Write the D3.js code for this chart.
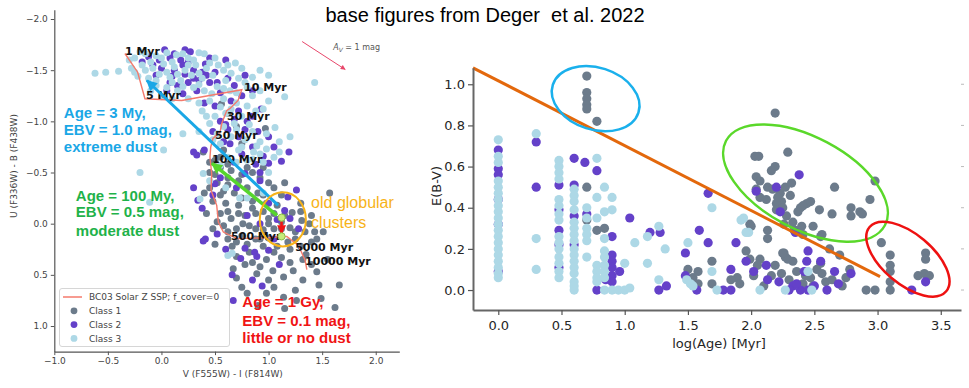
<!DOCTYPE html>
<html>
<head>
<meta charset="utf-8">
<script src="https://cdn.jsdelivr.net/npm/d3@7"></script>
<style>
body { margin: 0; background: #fff; }
svg { display: block; }
</style>
</head>
<body>
<svg id="fig" width="969" height="388"></svg>
<script>
// ---- left panel: colour-colour diagram (V-I, U-B) ----
const cmdClass1 = [
  [0.56,-1.17],[0.62,-1.08],[0.70,-0.95],[0.39,-0.70],[0.97,-0.93],[0.50,-0.62],[0.58,-0.72],[0.75,-0.78],
  [0.45,-0.60],[0.55,-0.55],[0.65,-0.52],[0.80,-0.55],[0.50,-0.48],[0.62,-0.45],[0.72,-0.42],[0.85,-0.50],
  [0.45,-0.35],[0.58,-0.32],[0.68,-0.30],[0.80,-0.35],[0.90,-0.30],[1.05,-0.35],[1.15,-0.40],[1.57,-0.30],
  [0.48,-0.22],[0.60,-0.20],[0.72,-0.18],[0.85,-0.22],[0.98,-0.20],[1.08,-0.18],[1.22,-0.11],[0.55,-0.10],
  [0.65,-0.05],[0.78,-0.08],[0.88,-0.10],[1.00,-0.05],[1.12,-0.02],[1.31,-0.03],[1.40,-0.08],[0.58,0.02],
  [0.70,0.05],[0.82,0.02],[0.95,0.06],[1.05,0.05],[1.20,0.04],[1.34,0.08],[1.43,0.08],[1.51,0.08],
  [0.62,0.15],[0.75,0.12],[0.88,0.15],[1.00,0.14],[1.12,0.12],[1.25,0.15],[0.66,0.22],[0.80,0.20],
  [0.95,0.22],[1.08,0.22],[1.20,0.25],[1.30,0.22],[0.70,0.32],[0.85,0.38],[0.98,0.35],[1.12,0.33],
  [1.32,0.35],[0.67,0.44],[0.89,0.49],[1.04,0.46],[1.14,0.52],[1.23,0.46],[0.70,0.53],[1.45,0.47],
  [1.47,0.60],[1.66,0.60],[1.49,0.73],[1.62,0.82],[1.15,0.83],[1.26,0.75],[1.14,0.72],[0.80,0.68],
  [0.98,0.68],[1.00,0.55],[0.52,-0.02],[1.35,0.30],[1.40,0.18],
  [0.52,-0.40],[0.62,-0.38],[0.75,-0.48],[0.92,-0.45],[1.00,-0.40],[0.55,-0.28],[0.75,-0.25],[0.95,-0.28],
  [1.12,-0.28],[1.30,-0.20],[0.62,-0.12],[0.72,-0.10],[0.95,-0.12],[1.05,-0.10],[1.15,-0.08],[1.30,-0.12],
  [0.62,0.08],[0.76,0.00],[0.88,0.05],[1.00,0.00],[1.12,0.05],[1.25,0.08],[0.70,0.18],[0.82,0.28],
  [0.92,0.15],[1.05,0.28],[1.18,0.18],[1.45,0.15],[0.78,0.40],[0.92,0.42],[1.20,0.38],[1.40,0.40],
  [1.05,0.62],[1.32,0.55],[0.90,0.80],[0.55,-0.65],[0.45,-0.50],[0.40,-0.30],[0.42,-0.10],[0.50,0.20],
  [0.75,0.62],[1.55,0.35],[1.25,0.65],[0.62,-0.58],[0.95,-0.55],[0.85,-0.15],[1.38,0.00],[0.48,0.05]
];
const cmdClass2 = [
  [-0.12,-1.63],[-0.02,-1.60],[0.08,-1.62],[0.18,-1.60],[0.27,-1.68],[0.03,-1.70],[0.12,-1.50],[0.20,-1.55],
  [0.30,-1.50],[0.08,-1.38],[0.22,-1.46],[0.35,-1.40],[0.45,-1.38],[0.15,-1.35],[0.25,-1.38],[0.50,-1.48],
  [0.41,-1.56],[0.33,-1.30],[0.55,-1.28],[0.62,-1.42],[0.78,-1.45],[0.93,-1.12],[0.65,-1.20],[0.75,-1.25],
  [0.50,-1.15],[0.40,-1.18],[-0.05,-1.45],[-0.18,-1.58],[0.45,-1.62],[0.60,-1.60],
  [0.55,-1.00],[0.68,-1.02],[0.80,-1.00],[0.48,-0.90],[0.62,-0.92],[0.90,-0.90],[0.72,-0.85],[0.58,-0.80],
  [0.85,-0.75],[1.00,-0.85],[1.19,-0.70],[1.12,-0.61],[0.64,-0.78],[0.40,-0.72],[0.30,-0.70],[0.75,-0.68],
  [0.95,-0.66],[0.68,-0.60],[0.88,-0.58],[1.00,-0.59],
  [0.33,-0.67],[0.78,-0.49],[0.92,-0.42],[1.26,-0.33],[0.50,-0.39],[0.34,-0.23],[0.38,-0.15],[1.15,-0.13],
  [1.18,-0.26],[0.80,-0.08],[0.92,0.00],[1.08,-0.04],[0.41,0.15],[0.52,0.10],[0.39,0.17],[0.78,0.24],
  [1.00,0.26],[0.74,0.34],[0.87,0.28],[0.89,0.32],[0.66,0.50],[0.94,0.61],[0.67,0.75],[1.20,-0.05],
  [0.30,-0.35],[1.05,0.15],
  [-0.08,-1.55],[0.00,-1.52],[0.10,-1.44],[0.25,-1.58],[0.38,-1.48],[0.12,-1.66],[0.22,-1.70],[0.42,-1.45],
  [0.52,-1.38],[0.30,-1.42],[0.05,-1.30],[0.20,-1.27],[0.68,-1.35],[0.85,-1.30],[0.72,-1.10],[0.85,-1.05],
  [0.60,-0.97],[0.78,-0.92],[1.05,-0.75],[0.92,-0.50],[0.55,-0.45],[0.70,-0.35],[0.60,0.25],[1.10,0.40],
  [0.85,0.55],[1.28,0.05],[1.00,-0.20],[0.48,-0.28]
];
const cmdClass3 = [
  [-0.25,-1.62],[-0.15,-1.66],[-0.05,-1.64],[0.05,-1.67],[0.14,-1.65],[0.25,-1.62],
  [-0.28,-1.52],[-0.18,-1.55],[-0.08,-1.52],[0.02,-1.56],[0.12,-1.53],[0.22,-1.50],[0.32,-1.55],[0.42,-1.52],
  [0.53,-1.55],[0.69,-1.57],
  [-0.22,-1.44],[-0.12,-1.42],[-0.02,-1.46],[0.08,-1.43],[0.18,-1.40],[0.28,-1.45],[0.38,-1.42],[0.48,-1.45],
  [0.60,-1.40],[0.72,-1.42],
  [-0.05,-1.35],[0.05,-1.33],[0.15,-1.30],[0.30,-1.33],[0.40,-1.30],[0.52,-1.34],[0.64,-1.30],[0.80,-1.33],
  [0.00,-1.24],[0.25,-1.22],[0.45,-1.20],[0.58,-1.22],[0.70,-1.18],[0.85,-1.25],[1.15,-1.24],
  [-0.62,-1.47],[-0.52,-1.48],[-0.40,-1.49],[1.43,-1.38],[0.92,-1.50],[0.40,-1.66],
  [0.38,-1.10],[0.50,-1.05],[0.60,-1.08],[0.75,-1.05],[0.88,-1.10],[0.45,-0.98],[0.58,-0.95],[0.70,-0.92],
  [0.82,-0.97],[1.06,-0.94],[0.35,-0.90],[0.20,-0.88],[0.65,-0.85],[0.78,-0.82],[0.92,-0.80],[1.20,-0.85],
  [0.55,-0.78],[0.72,-0.72],[0.86,-0.70],[0.98,-0.73],[0.02,-0.72],[0.62,-0.65],[0.80,-0.62],[0.95,-0.60],
  [1.05,-0.65],[-0.20,-0.50],[0.39,-0.49],[0.55,-0.57],[1.00,-0.50],[0.89,-0.76],[0.36,-0.24],[0.45,-0.42],
  [0.60,-0.35],
  [-0.11,-0.21],[0.73,-0.25],[0.80,-0.25],[0.66,0.29],[0.62,0.31],[0.95,-0.30],
  [-0.30,-1.60],[-0.20,-1.68],[-0.10,-1.58],[0.00,-1.62],[0.10,-1.58],[0.20,-1.66],[0.30,-1.60],[0.35,-1.67],
  [-0.25,-1.48],[-0.15,-1.50],[-0.05,-1.40],[0.05,-1.48],[0.15,-1.46],[0.25,-1.55],[0.35,-1.47],[0.45,-1.57],
  [0.58,-1.50],[0.65,-1.47],[0.78,-1.38],[0.85,-1.43],
  [-0.10,-1.30],[0.10,-1.38],[0.20,-1.34],[0.35,-1.36],[0.47,-1.27],[0.58,-1.32],[0.70,-1.28],[0.92,-1.30],
  [1.00,-1.20],[0.10,-1.22],[0.35,-1.18],[0.55,-1.14],[0.65,-1.12],[0.80,-1.15],[0.95,-1.12],
  [0.42,-1.05],[0.68,-0.98],[0.85,-0.90],[0.98,-0.88],[1.10,-0.80],[0.52,-0.88],[0.75,-0.75],[0.92,-0.68],
  [1.10,-0.70],[0.70,-0.60],[0.85,-0.63],[0.48,-0.82],
  [0.50,-1.62],[0.62,-1.55],[0.75,-1.52],[1.00,-1.45]
];
// BC03 solar-metallicity SSP track
const ssptrack = [
  [-0.341,-1.663],[-0.222,-1.480],[-0.154,-1.221],[0.189,-1.204],[0.750,-1.309],[0.715,-1.204],
  [0.640,-1.126],[0.609,-1.104],[0.563,-0.979],[0.547,-0.895],[0.481,-0.833],[0.460,-0.748],
  [0.453,-0.650],[0.469,-0.488],[0.463,-0.325],[0.516,-0.179],[0.531,-0.016],[0.578,0.082],
  [0.703,0.146],[0.983,0.137],[1.170,0.124],[1.279,0.212],[1.341,0.358],[1.357,0.449]
];
const trackAges = ["1 Myr","5 Myr","10 Myr","30 Myr","50 Myr","100 Myr","500 Myr","5000 Myr","10000 Myr"];
const trackAgePos = [
  [-0.341,-1.644],[-0.145,-1.214],[0.771,-1.292],[0.612,-1.009],[0.500,-0.823],
  [0.472,-0.589],[0.650,0.163],[1.248,0.271],[1.341,0.407]
];
const cmdXTicks = [-1.0,-0.5,0.0,0.5,1.0,1.5,2.0];
const cmdYTicks = [-2.0,-1.5,-1.0,-0.5,0.0,0.5,1.0];
const legendLabels = ["BC03 Solar Z SSP; f_cover=0","Class 1","Class 2","Class 3"];

// ---- right panel: E(B-V) vs log(Age) ----
const ageClass1 = [
  [0.70,1.04],[0.70,0.96],[0.70,0.93],[0.70,0.90],[0.70,0.88],[0.78,0.82],
  [0.70,0.50],[0.70,0.34],[0.78,0.29],[0.84,0.30],[1.50,0.10],[1.54,0.06],[1.58,0.03],[2.19,0.86],
  [2.03,0.65],[2.06,0.65],[2.29,0.67],[2.16,0.58],[2.19,0.60],[2.04,0.55],[2.07,0.53],[2.04,0.49],
  [2.13,0.50],[2.17,0.49],[2.23,0.47],[2.27,0.50],[2.32,0.52],[2.31,0.46],[2.24,0.43],[2.07,0.45],
  [2.12,0.44],[2.20,0.42],[2.66,0.50],[2.98,0.53],[2.94,0.44],[2.79,0.40],[2.86,0.38],[2.79,0.36],
  [2.54,0.39],[2.44,0.42],[2.39,0.40],[2.37,0.38],[2.25,0.40],[2.20,0.39],[2.41,0.41],[2.47,0.43],
  [2.33,0.33],[2.26,0.32],[2.35,0.29],[2.41,0.27],[2.49,0.31],[2.55,0.26],[2.28,0.36],[2.21,0.45],
  [2.00,0.31],[2.13,0.29],[2.13,0.25],[1.96,0.19],[1.99,0.15],[2.07,0.15],[1.69,0.14],[1.69,0.03],
  [1.89,0.06],[1.91,0.03],[2.02,0.07],[2.16,0.07],[2.19,0.12],[2.24,0.08],[2.26,0.18],[2.27,0.16],
  [2.33,0.14],[2.36,0.09],[2.41,0.03],[2.43,0.07],[2.47,0.06],[2.49,0.02],[2.55,0.13],[2.56,0.08],
  [2.59,0.04],[2.64,0.05],[2.70,0.17],[2.78,0.10],[2.75,0.06],[2.91,0.00],[2.98,0.00],[3.03,0.23],
  [3.10,0.17],[3.10,0.12],[3.10,0.09],[3.10,0.04],[3.10,0.00],[3.38,0.18],[3.38,0.15],[3.32,0.07],
  [3.37,0.08],[3.41,0.07],[2.56,0.27],[2.40,0.31],[2.34,0.29],[2.64,0.37],[2.88,0.37],[1.58,0.09],
  [1.99,0.32],[2.29,0.15],[2.25,0.18],[2.05,0.12],[1.84,0.05],[2.10,0.02],[2.30,0.05],[2.52,0.10],
  [2.62,0.20],[2.72,0.02]
];
const ageClass2 = [
  [0.00,0.68],[0.00,0.59],[0.00,0.56],[0.00,0.44],[0.00,0.32],[0.00,0.09],[0.30,0.72],[0.30,0.50],
  [0.48,0.51],[0.48,0.39],[0.48,0.29],[0.48,0.22],[0.48,0.11],[0.60,0.64],[0.60,0.51],[0.60,0.36],
  [0.60,0.22],[0.685,0.62],[0.78,0.58],[0.70,0.37],[0.78,0.00],[0.90,0.26],[0.90,0.17],[0.90,0.14],
  [0.90,0.11],[0.90,0.07],[0.90,0.04],[0.85,0.05],[0.96,0.09],[1.04,0.35],[1.20,0.28],[1.28,0.28],
  [1.27,0.00],[1.33,0.02],[1.48,0.18],[1.48,0.07],[1.59,0.29],[1.66,0.23],[1.66,0.47],[1.88,0.23],
  [1.84,0.10],[1.96,0.14],[2.02,0.09],[2.12,0.12],[2.13,0.05],[2.22,0.04],[2.44,0.14],[2.55,0.14],
  [2.66,0.09],[2.79,0.08],[2.69,0.03],[2.60,0.00],[1.57,0.00],[1.78,0.00],[1.84,0.00],[2.39,0.00],
  [2.45,0.00],[2.50,0.02],[2.33,0.02],[3.27,0.00],[3.38,0.04],[2.38,0.56],[2.04,0.48],[2.20,0.50],
  [2.23,0.38],[2.35,0.28],[2.45,0.19],[2.36,0.03],[2.30,0.00],[2.42,0.09]
];
const ageClass3 = [
  [0,0.73],[0,0.65],[0,0.62],[0,0.53],[0,0.50],[0,0.47],[0,0.44],[0,0.41],[0,0.38],[0,0.35],
  [0,0.32],[0,0.29],[0,0.26],[0,0.23],[0,0.20],[0,0.17],[0,0.14],[0,0.11],[0,0.08],[0,0.06],
  [0.30,0.76],[0.30,0.25],[0.30,0.10],
  [0.48,0.63],[0.48,0.60],[0.48,0.57],[0.48,0.54],[0.48,0.44],[0.48,0.41],[0.48,0.37],[0.48,0.34],
  [0.48,0.26],[0.48,0.23],[0.48,0.20],[0.48,0.16],[0.48,0.13],[0.48,0.09],[0.48,0.06],
  [0.60,0.49],[0.60,0.46],[0.60,0.43],[0.60,0.39],[0.60,0.33],[0.60,0.30],[0.60,0.27],[0.60,0.24],
  [0.60,0.20],[0.60,0.17],[0.60,0.14],[0.60,0.11],[0.60,0.08],[0.60,0.04],[0.60,0.02],[0.60,0.00],
  [0.70,0.40],[0.70,0.35],[0.70,0.30],[0.70,0.27],[0.70,0.24],[0.70,0.16],
  [0.78,0.64],[0.84,0.50],[0.78,0.45],[0.78,0.35],[0.78,0.12],[0.78,0.09],[0.78,0.06],[0.78,0.04],
  [0.84,0.38],[0.84,0.25],[0.84,0.19],[0.84,0.16],[0.84,0.12],[0.84,0.09],[0.84,0.06],[0.84,0.00],
  [0.90,0.45],[0.90,0.39],[0.90,0.00],[0.95,0.00],[1.00,0.00],[1.04,0.01],[1.00,0.13],[1.08,0.23],
  [1.18,0.26],[1.18,0.13],[1.27,0.31],[1.27,0.05],[1.32,0.20],[1.49,0.05],[1.50,0.23],[1.54,0.02],
  [1.52,0.03],[1.69,0.40],[1.94,0.35],[1.98,0.28],[1.69,0.09],[1.73,0.00],[2.07,0.00],[2.27,0.00],
  [2.45,0.09],[2.48,0.00],[1.92,0.34],[1.96,0.28]
];
const ageXTicks = [0.0,0.5,1.0,1.5,2.0,2.5,3.0,3.5];
const ageYTicks = [0.0,0.2,0.4,0.6,0.8,1.0];
const dustLine = [[-0.2,1.08],[3.02,0.065]];

const colors = { c1: "#6c7b8b", c2: "#6441c9", c3: "#add8e6", track: "#f47a6c" };

const svg = d3.select("#fig");
const defs = svg.append("defs");
function marker(id, color, w, h) {
  defs.append("marker")
    .attr("id", id)
    .attr("viewBox", "0 0 10 10")
    .attr("refX", 9).attr("refY", 5)
    .attr("markerWidth", w).attr("markerHeight", h)
    .attr("markerUnits", "userSpaceOnUse")
    .attr("orient", "auto")
    .append("path").attr("d", "M0,0L10,5L0,10z").attr("fill", color);
}
marker("ahBlue", "#1aa7e6", 13, 11);
marker("ahGreen", "#56d52c", 13, 11);
marker("ahRed", "#f01414", 9, 10);
marker("ahAv", "#e8476b", 6, 5);

// title
svg.append("text")
  .attr("x", 485).attr("y", 22)
  .attr("text-anchor", "middle")
  .style("white-space", "pre")
  .style("font-family", "'Liberation Sans', Arial, sans-serif")
  .style("font-size", "20px")
  .attr("fill", "#000")
  .text("base figures from Deger  et al. 2022");

// ================= left panel =================
const xL = d3.scaleLinear().domain([-1, 2.22]).range([54.3, 399.3]);
const yL = d3.scaleLinear().domain([-2.09, 1.25]).range([9.8, 351.6]);
const gL = svg.append("g");

const axL = gL.append("g").attr("transform", `translate(0,${yL.range()[1]})`)
  .call(d3.axisBottom(xL).tickValues(cmdXTicks).tickFormat(d3.format(".1f")).tickSize(3.5).tickSizeOuter(0));
const ayL = gL.append("g").attr("transform", `translate(${xL.range()[0]},0)`)
  .call(d3.axisLeft(yL).tickValues(cmdYTicks).tickFormat(d3.format(".1f")).tickSize(3.5).tickSizeOuter(0));
[axL, ayL].forEach(a => {
  a.select(".domain").attr("stroke", "#555").attr("stroke-width", 1.2);
  a.selectAll(".tick line").attr("stroke", "#555");
  a.selectAll(".tick text").attr("fill", "#444")
    .style("font-family", "'DejaVu Sans', sans-serif").style("font-size", "9px");
});

gL.append("text")
  .attr("x", (xL(-1) + xL(2.22)) / 2 + 6).attr("y", 377)
  .attr("text-anchor", "middle")
  .style("font-family", "'DejaVu Sans', sans-serif").style("font-size", "9px")
  .attr("fill", "#444")
  .text("V (F555W) - I (F814W)");
gL.append("text")
  .attr("transform", "translate(17,166) rotate(-90)")
  .attr("text-anchor", "middle")
  .style("font-family", "'DejaVu Sans', sans-serif").style("font-size", "9px")
  .attr("fill", "#444")
  .text("U (F336W) - B (F438W)");

[[cmdClass1, colors.c1], [cmdClass2, colors.c2], [cmdClass3, colors.c3]].forEach(([pts, col]) => {
  gL.append("g").selectAll("circle").data(pts).join("circle")
    .attr("cx", d => xL(d[0])).attr("cy", d => yL(d[1]))
    .attr("r", 3.5).attr("fill", col);
});

gL.append("path")
  .datum(ssptrack)
  .attr("d", d3.line().x(d => xL(d[0])).y(d => yL(d[1])))
  .attr("fill", "none").attr("stroke", colors.track).attr("stroke-width", 1.4);

gL.append("g").selectAll("text").data(trackAges).join("text")
  .attr("x", (d, i) => xL(trackAgePos[i][0])).attr("y", (d, i) => yL(trackAgePos[i][1]))
  .style("font-family", "'DejaVu Sans', sans-serif").style("font-size", "11px").style("font-weight", "bold")
  .attr("fill", "#111")
  .text(d => d);

// reddening vector
gL.append("line")
  .attr("x1", xL(1.313)).attr("y1", yL(-1.780)).attr("x2", xL(1.715)).attr("y2", yL(-1.507))
  .attr("stroke", "#e8476b").attr("stroke-width", 1).attr("marker-end", "url(#ahAv)");
const av = gL.append("text").attr("x", xL(1.603)).attr("y", yL(-1.702))
  .style("font-family", "'DejaVu Sans', sans-serif").style("font-size", "8px").attr("fill", "#555");
av.append("tspan").style("font-style", "italic").text("A");
av.append("tspan").attr("dy", 2).style("font-size", "6px").style("font-style", "italic").text("V");
av.append("tspan").attr("dy", -2).text(" = 1 mag");

// legend
const lg = gL.append("g");
lg.append("rect").attr("x", 59.5).attr("y", 288.5).attr("width", 170).attr("height", 58)
  .attr("rx", 2.5).attr("fill", "#fff").attr("fill-opacity", 0.85).attr("stroke", "#d6d6d6");
legendLabels.forEach((lab, i) => {
  const yy = 297 + i * 13.8;
  if (i === 0) {
    lg.append("line").attr("x1", 63).attr("x2", 82).attr("y1", yy).attr("y2", yy)
      .attr("stroke", colors.track).attr("stroke-width", 1.5);
  } else {
    lg.append("circle").attr("cx", 74).attr("cy", yy).attr("r", 3.4)
      .attr("fill", [colors.c1, colors.c2, colors.c3][i - 1]);
  }
  lg.append("text").attr("x", 89).attr("y", yy + 3.2)
    .style("font-family", "'DejaVu Sans', sans-serif").style("font-size", "9px")
    .attr("fill", "#444").text(lab);
});

// annotation arrows
gL.append("line")
  .attr("x1", xL(1.089)).attr("y1", yL(-0.179)).attr("x2", xL(-0.136)).attr("y2", yL(-1.399))
  .attr("stroke", "#1aa7e6").attr("stroke-width", 3).attr("marker-end", "url(#ahBlue)");
gL.append("line")
  .attr("x1", xL(1.079)).attr("y1", yL(-0.081)).attr("x2", xL(0.472)).attr("y2", yL(-0.589))
  .attr("stroke", "#56d52c").attr("stroke-width", 3.5).attr("marker-end", "url(#ahGreen)");
gL.append("line")
  .attr("x1", xL(1.121)).attr("y1", yL(-0.059)).attr("x2", xL(1.121)).attr("y2", yL(0.095))
  .attr("stroke", "#f01414").attr("stroke-width", 2.5).attr("marker-end", "url(#ahRed)");
gL.append("g").selectAll("circle").data([[1.121, -0.059], [1.121, 0.124]]).join("circle")
  .attr("cx", d => xL(d[0])).attr("cy", d => yL(d[1])).attr("r", 3.6)
  .attr("fill", "#c6ec7c").attr("stroke", "#8cc04a").attr("stroke-width", 1);
gL.append("ellipse")
  .attr("cx", xL(1.133)).attr("cy", yL(-0.042))
  .attr("rx", xL(1.133 + 0.215) - xL(1.133)).attr("ry", yL(-0.042 + 0.264) - yL(-0.042))
  .attr("fill", "none").attr("stroke", "#f7b319").attr("stroke-width", 2);

const notes = [
  { lines: ["Age = 3 My,", "EBV = 1.0 mag,", "extreme dust"], x: -0.911, y: [-1.037, -0.867, -0.696], color: "#1aa7e6", bold: true, size: 15 },
  { lines: ["Age = 100 My,", "EBV = 0.5 mag,", "moderate dust"], x: -0.799, y: [-0.225, -0.062, 0.117], color: "#1fb24a", bold: true, size: 15 },
  { lines: ["Age = 1 Gy,", "EBV = 0.1 mag,", "little or no dust"], x: 0.755, y: [0.817, 0.996, 1.166], color: "#f01414", bold: true, size: 15 },
  { lines: ["old globular", "clusters"], x: 1.397, y: [-0.149, 0.039], color: "#f7b319", bold: false, size: 16 }
];
notes.forEach(n => {
  n.lines.forEach((t, i) => {
    gL.append("text").attr("x", xL(n.x)).attr("y", yL(n.y[i]))
      .style("font-family", "'Liberation Sans', Arial, sans-serif")
      .style("font-size", n.size + "px").style("font-weight", n.bold ? "bold" : "normal")
      .attr("fill", n.color).text(t);
  });
});

// ================= right panel =================
const xR = d3.scaleLinear().domain([-0.2, 3.66]).range([473, 961]);
const yR = d3.scaleLinear().domain([-0.097, 1.08]).range([310, 67.8]);
const gR = svg.append("g");

[[ageClass1, colors.c1], [ageClass2, colors.c2], [ageClass3, colors.c3]].forEach(([pts, col]) => {
  gR.append("g").selectAll("circle").data(pts).join("circle")
    .attr("cx", d => xR(d[0])).attr("cy", d => yR(d[1]))
    .attr("r", 4.6).attr("fill", col);
});

gR.append("path")
  .datum(dustLine)
  .attr("d", d3.line().x(d => xR(d[0])).y(d => yR(d[1])))
  .attr("stroke", "#e3680c").attr("stroke-width", 3).attr("fill", "none");

const axR = gR.append("g").attr("transform", `translate(0,${yR.range()[0]})`)
  .call(d3.axisBottom(xR).tickValues(ageXTicks).tickFormat(d3.format(".1f")).tickSize(5).tickSizeOuter(0));
const ayR = gR.append("g").attr("transform", `translate(${xR.range()[0]},0)`)
  .call(d3.axisLeft(yR).tickValues(ageYTicks).tickFormat(d3.format(".1f")).tickSize(5).tickSizeOuter(0));
[axR, ayR].forEach(a => {
  a.select(".domain").attr("stroke", "#666").attr("stroke-width", 2);
  a.selectAll(".tick line").attr("stroke", "#555").attr("stroke-width", 1.2);
  a.selectAll(".tick text").attr("fill", "#262626")
    .style("font-family", "'DejaVu Sans', sans-serif").style("font-size", "13px");
});
axR.selectAll(".tick text").attr("dy", "0.95em");
// faint ticks left over on the cropped right edge
gR.append("g").selectAll("line").data(ageYTicks).join("line")
  .attr("x1", xR.range()[1]).attr("x2", xR.range()[1] + 3)
  .attr("y1", d => yR(d)).attr("y2", d => yR(d))
  .attr("stroke", "#bbb").attr("stroke-width", 1);

gR.append("text")
  .attr("x", 719).attr("y", 348)
  .attr("text-anchor", "middle")
  .style("font-family", "'DejaVu Sans', sans-serif").style("font-size", "13px")
  .attr("fill", "#262626")
  .text("log(Age) [Myr]");
gR.append("text")
  .attr("transform", "translate(441,186) rotate(-90)")
  .attr("text-anchor", "middle")
  .style("font-family", "'DejaVu Sans', sans-serif").style("font-size", "13px")
  .attr("fill", "#262626")
  .text("E(B-V)");

// highlight ellipses: [cx, cy, rx(px), ry(px), rotation, colour]
const rings = [
  [0.77, 0.93, 45, 31, 18, "#1ab0ec"],
  [2.43, 0.52, 90, 46, 28, "#5ad82a"],
  [3.24, 0.15, 50, 25, 40, "#ee1111"]
];
gR.append("g").selectAll("ellipse").data(rings).join("ellipse")
  .attr("transform", d => `translate(${xR(d[0])},${yR(d[1])}) rotate(${d[4]})`)
  .attr("rx", d => d[2]).attr("ry", d => d[3])
  .attr("fill", "none").attr("stroke", d => d[5]).attr("stroke-width", 2.5);
</script>
</body>
</html>
